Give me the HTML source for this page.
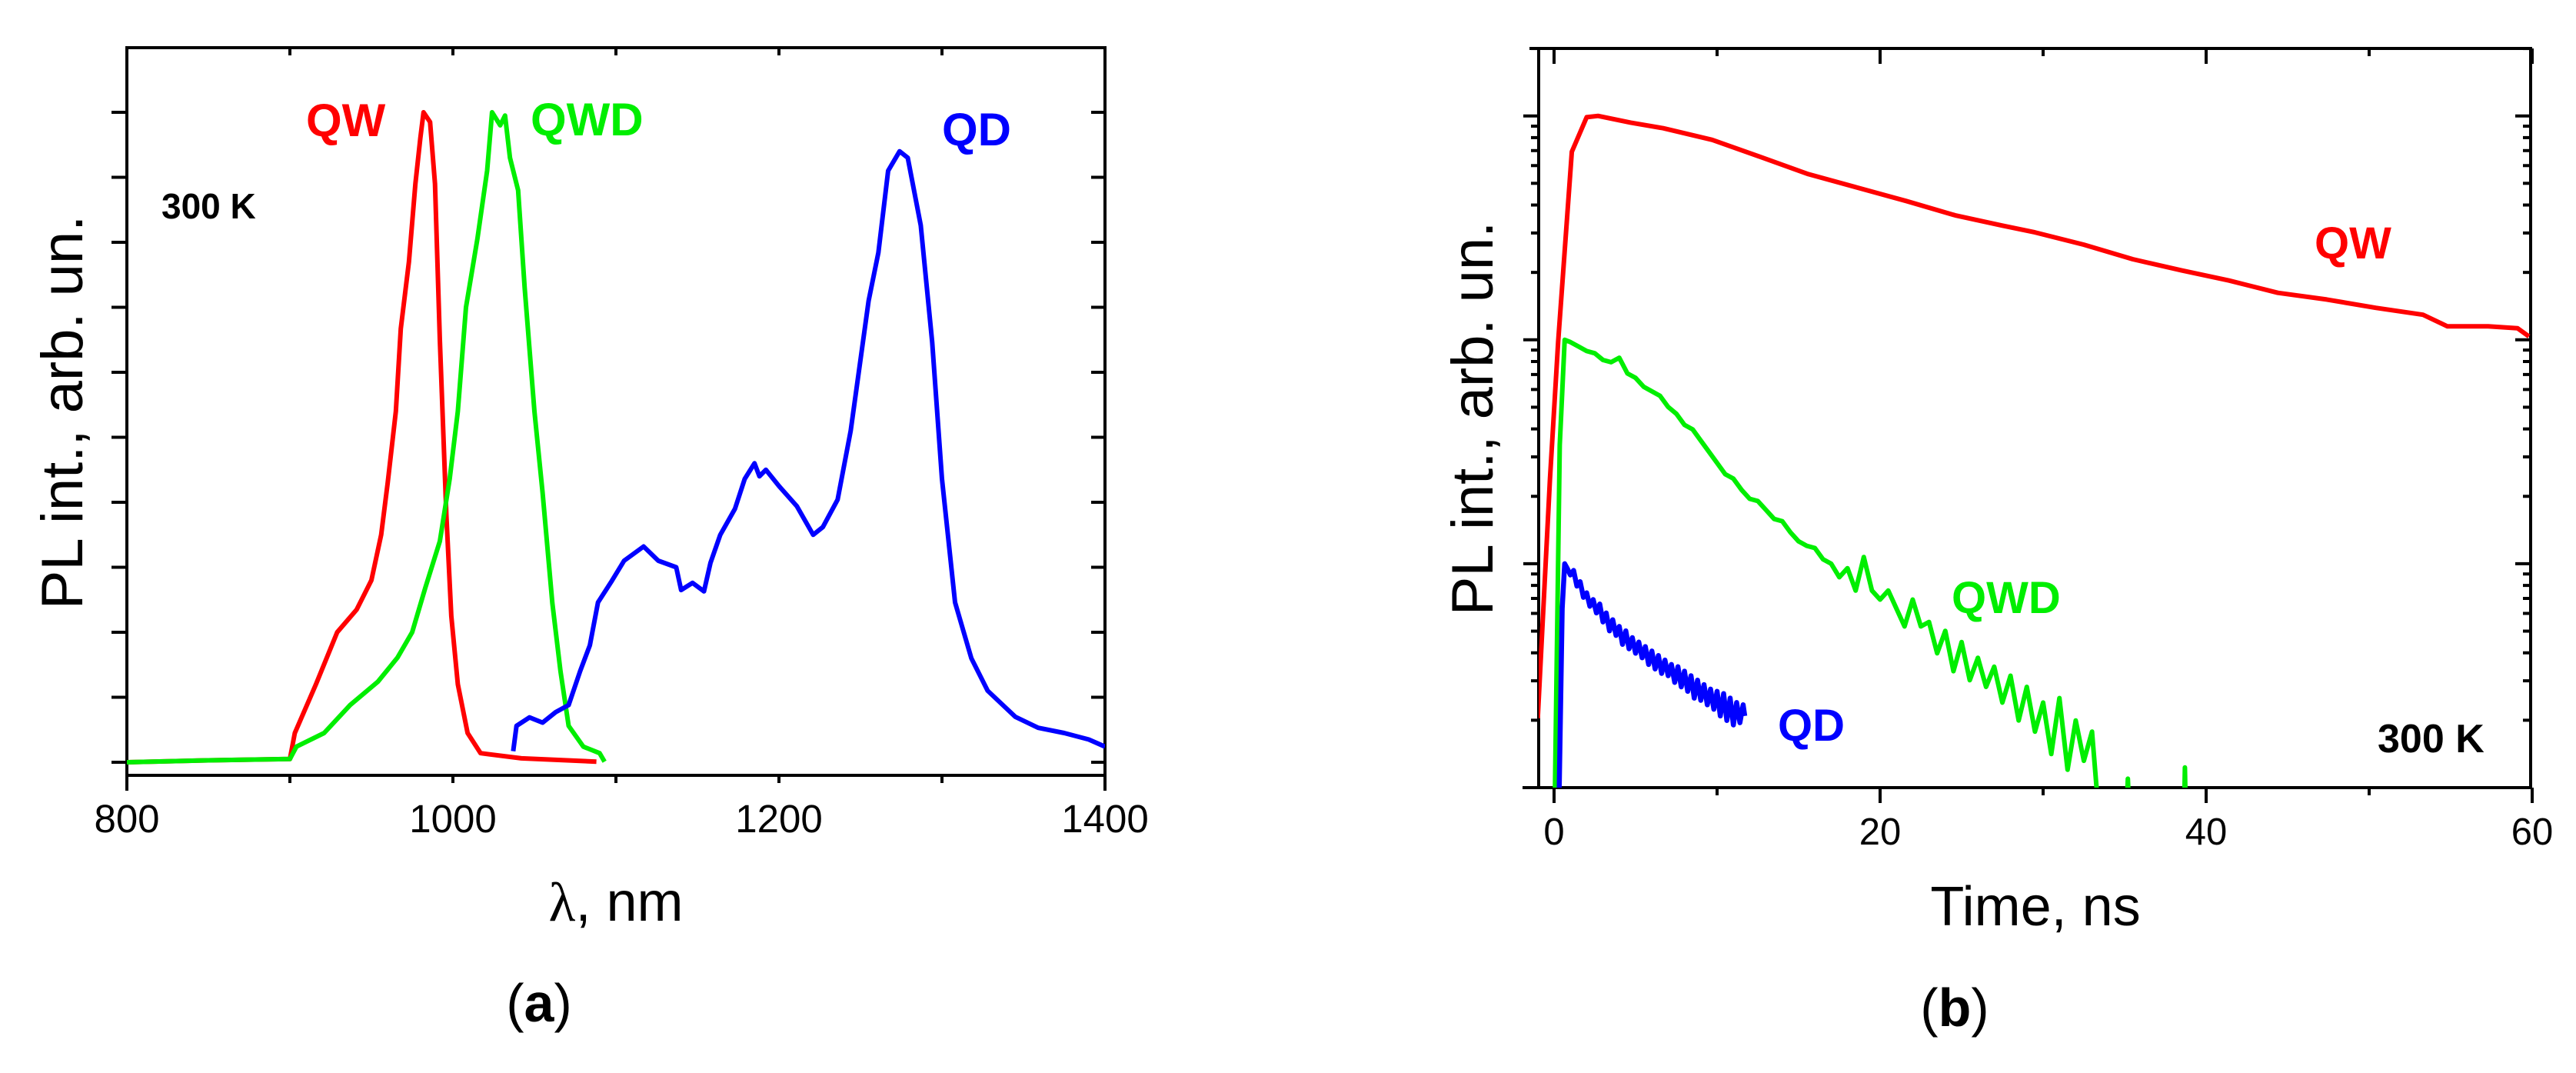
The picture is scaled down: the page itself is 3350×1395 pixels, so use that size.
<!DOCTYPE html>
<html><head><meta charset="utf-8"><style>
html,body{margin:0;padding:0;background:#fff;}
svg{display:block;}
text{font-family:"Liberation Sans",Arial,sans-serif;}
</style></head><body>
<svg id="fig" width="3350" height="1395" viewBox="0 0 3350 1395" xmlns="http://www.w3.org/2000/svg">
<defs>
<clipPath id="clipA"><rect x="165" y="62" width="1272" height="946"/></clipPath>
<clipPath id="clipB"><rect x="2001" y="63" width="1290" height="961"/></clipPath>
</defs>
<g id="panelA"></g>
<g id="panelB"></g>
</svg>
<script>
// ---------- Panel (a) data: wavelength (nm) vs normalized PL ----------
const qwWl  = [800,850,900,903,916,929,941,950,956,960,965,968,973,977,980,982,986,989,992,996,999,1003,1009,1017,1042,1088];
const qwI   = [0,0.003,0.005,0.045,0.12,0.2,0.235,0.28,0.35,0.43,0.54,0.667,0.77,0.89,0.96,1.0,0.985,0.89,0.65,0.38,0.225,0.12,0.045,0.014,0.006,0.001];
const qwdWl = [800,850,900,904,921,937,954,966,975,983,992,998,1003,1008,1015,1021,1024,1029,1032,1035,1040,1044,1050,1055,1061,1066,1071,1080,1090,1093];
const qwdI  = [0,0.003,0.005,0.024,0.045,0.088,0.124,0.161,0.2,0.268,0.34,0.436,0.54,0.7,0.805,0.91,1.0,0.98,0.995,0.93,0.88,0.73,0.54,0.415,0.245,0.14,0.056,0.024,0.014,0.001];
const qdWl  = [1037,1039,1047,1055,1063,1071,1078,1084,1089,1097,1105,1117,1126,1137,1140,1147,1154,1158,1164,1173,1179,1185,1188,1192,1200,1211,1221,1227,1236,1244,1255,1261,1267,1274,1279,1287,1294,1300,1308,1318,1328,1345,1359,1375,1390,1400];
const qdI   = [0.017,0.056,0.069,0.061,0.077,0.088,0.14,0.18,0.246,0.277,0.31,0.332,0.31,0.3,0.265,0.276,0.263,0.307,0.35,0.39,0.436,0.46,0.44,0.45,0.425,0.394,0.35,0.362,0.404,0.51,0.71,0.784,0.91,0.94,0.93,0.826,0.646,0.436,0.246,0.16,0.11,0.07,0.053,0.045,0.035,0.024];
const aXTicks = [800,1000,1200,1400];

// ---------- Panel (b) data: time (ns) vs log10(PL intensity) ----------
const qwT   = [-1,-0.25,0.25,1.09,2,2.7,4.7,6.7,9.7,12.7,15.6,18.6,21.6,24.6,27.5,29.5,32.5,35.5,38.5,41.4,44.4,47.4,50.4,53.3,54.8,57.3,59.1,59.8];
const qwLog = [-2.69,-1.62,-1.01,-0.16,-0.006,0,-0.03,-0.055,-0.107,-0.184,-0.26,-0.32,-0.38,-0.444,-0.49,-0.52,-0.575,-0.64,-0.69,-0.735,-0.79,-0.82,-0.857,-0.888,-0.94,-0.94,-0.948,-0.985];
const qwdT   = [0,0.35,0.65,1,1.5,2,2.5,3,3.5,4,4.5,5,5.5,6,6.5,7,7.5,8,8.5,9,9.5,10,10.5,11,11.5,12,12.5,13,13.5,14,14.5,15,15.5,16,16.5,17,17.5,18,18.5,19,19.5,20,20.5,21,21.5,22,22.5,23,23.5,24,24.5,25,25.5,26,26.5,27,27.5,28,28.5,29,29.5,30,30.5,31,31.5,32,32.5,33,33.5,35,35.2,35.4,38.6,38.7,38.8];
const qwdLog = [-3.3,-1.47,-1.0,-1.01,-1.03,-1.05,-1.06,-1.09,-1.10,-1.08,-1.15,-1.17,-1.21,-1.23,-1.25,-1.30,-1.33,-1.38,-1.40,-1.45,-1.50,-1.55,-1.60,-1.62,-1.67,-1.71,-1.72,-1.76,-1.80,-1.81,-1.86,-1.90,-1.92,-1.93,-1.98,-2.00,-2.06,-2.02,-2.12,-1.97,-2.12,-2.16,-2.12,-2.20,-2.28,-2.16,-2.28,-2.26,-2.40,-2.30,-2.48,-2.35,-2.52,-2.42,-2.55,-2.46,-2.62,-2.50,-2.70,-2.55,-2.75,-2.62,-2.85,-2.60,-2.92,-2.70,-2.88,-2.75,-3.2,-3.3,-2.96,-3.3,-3.3,-2.91,-3.3];
const qdT   = [0.25,0.5,0.65,0.8,1,1.2,1.4,1.6,1.8,2,2.2,2.4,2.6,2.8,3,3.2,3.4,3.6,3.8,4,4.2,4.4,4.6,4.8,5,5.2,5.4,5.6,5.8,6,6.2,6.4,6.6,6.8,7,7.2,7.4,7.6,7.8,8,8.2,8.4,8.6,8.8,9,9.2,9.4,9.6,9.8,10,10.2,10.4,10.6,10.8,11,11.2,11.4,11.6,11.7];
const qdLog = [-3.3,-2.2,-2.0,-2.02,-2.05,-2.03,-2.10,-2.08,-2.15,-2.13,-2.19,-2.16,-2.22,-2.18,-2.26,-2.22,-2.30,-2.25,-2.32,-2.28,-2.36,-2.30,-2.38,-2.33,-2.40,-2.35,-2.42,-2.37,-2.45,-2.39,-2.47,-2.41,-2.49,-2.43,-2.50,-2.45,-2.53,-2.46,-2.55,-2.48,-2.57,-2.50,-2.60,-2.52,-2.61,-2.54,-2.63,-2.56,-2.65,-2.57,-2.68,-2.58,-2.70,-2.60,-2.72,-2.62,-2.71,-2.63,-2.68];
const bXTicks = [0,20,40,60];

const NS = 'http://www.w3.org/2000/svg';
function mk(parent, tag, attrs, txt){
  const e = document.createElementNS(NS, tag);
  for (const k in attrs) e.setAttribute(k, attrs[k]);
  if (txt !== undefined) e.textContent = txt;
  parent.appendChild(e);
  return e;
}
function line(p,x1,y1,x2,y2,w){ return mk(p,'line',{x1:x1,y1:y1,x2:x2,y2:y2,stroke:'#000','stroke-width':w||4}); }

// ===== Panel A =====
const A = document.getElementById('panelA');
const aL=165,aR=1437,aT=62,aB=1008;
const ax = v => aL + (v-800)*(aR-aL)/600;
const ay = v => 991 - v*845;
for (let v=800; v<=1400; v+=100){
  const x=ax(v); const end=(v===800||v===1400);
  const t=line(A,x,aB,x,aB+(end?20:10));
   
  if(!end){ const t2=line(A,x,aT,x,aT+10);
      }
}
for (let i=0;i<=10;i++){
  const y=ay(i/10);
  const t=line(A,aL-20,y,aL,y);
   
  const t2=line(A,aR-18,y,aR,y);
   
}
const frA = mk(A,'rect',{x:aL,y:aT,width:aR-aL,height:aB-aT,fill:'none',stroke:'#000','stroke-width':4});
 
for (const v of aXTicks){
  const t=mk(A,'text',{x:ax(v),y:1082,'font-size':51,'text-anchor':'middle'},String(v));
   
}
function seriesA(xs,ys,color,name){
  const d=xs.map((x,i)=>(i?'L':'M')+ax(x).toFixed(1)+' '+ay(ys[i]).toFixed(1)).join(' ');
  const p=mk(A,'path',{d:d,fill:'none',stroke:color,'stroke-width':6,'stroke-linejoin':'round','clip-path':'url(#clipA)'});
   
}
seriesA(qwWl,qwI,'#ff0000','qw-spectrum');
seriesA(qwdWl,qwdI,'#00ee00','qwd-spectrum');
seriesA(qdWl,qdI,'#0000ff','qd-spectrum');
let tx;
tx=mk(A,'text',{x:398,y:177,'font-size':60,'font-weight':'bold',fill:'#ff0000'},'QW');
 
tx=mk(A,'text',{x:690,y:176,'font-size':60,'font-weight':'bold',fill:'#00ee00'},'QWD');
 
tx=mk(A,'text',{x:1225,y:189,'font-size':60,'font-weight':'bold',fill:'#0000ff'},'QD');
 
tx=mk(A,'text',{x:210,y:284,'font-size':46,'font-weight':'bold'},'300 K');
 
tx=mk(A,'text',{x:801,y:1197,'font-size':72,'text-anchor':'middle'});
tx.innerHTML='<tspan font-family="Liberation Serif, serif">λ</tspan>, nm';
 
tx=mk(A,'text',{x:0,y:0,'font-size':76,'text-anchor':'middle',transform:'translate(107,536) rotate(-90)'},'PL int., arb. un.');
 
tx=mk(A,'text',{x:701,y:1328,'font-size':70,'text-anchor':'middle','font-family':'"Liberation Serif",serif'});
tx.innerHTML='(<tspan font-weight="bold">a</tspan>)';
 

// ===== Panel B =====
const B = document.getElementById('panelB');
const bL=2001,bR=3291,bT=63,bB=1024;
const bx = t => 2021 + t*21.2;
const by = lg => 1024 - (lg+3)*291.1;
for (let v=0; v<=60; v+=10){
  const x=bx(v); const major=(v%20===0);
  const t=line(B,x,bB,x,bB+(major?20:10));
   
  const t2=line(B,x,bT,x,bT+(major?20:10));
   
}
for (let dec=-3; dec<=0; dec++){
  for (let m=1;m<=9;m++){
    const lg=dec+Math.log10(m);
    if (lg>0.302) break;
    const y=by(lg); const len=(m===1)?20:10;
    const t=line(B,bL-len,y,bL,y);
     
    const t2=line(B,bR-len,y,bR,y);
     
  }
}
line(B,1980,bB,bL,bB); line(B,1989,bT,bL,bT);
const frB = mk(B,'rect',{x:bL,y:bT,width:bR-bL,height:bB-bT,fill:'none',stroke:'#000','stroke-width':4});
 
for (const v of bXTicks){
  const t=mk(B,'text',{x:bx(v),y:1098,'font-size':49,'text-anchor':'middle'},String(v));
   
}
function seriesB(xs,ys,color,name,w){
  const d=xs.map((x,i)=>(i?'L':'M')+bx(x).toFixed(1)+' '+by(ys[i]).toFixed(1)).join(' ');
  const p=mk(B,'path',{d:d,fill:'none',stroke:color,'stroke-width':w,'stroke-linejoin':'round','clip-path':'url(#clipB)'});
   
}
seriesB(qwT,qwLog,'#ff0000','qw-decay',6);
seriesB(qwdT,qwdLog,'#00ee00','qwd-decay',6);
seriesB(qdT,qdLog,'#0000ff','qd-decay',6.5);
tx=mk(B,'text',{x:3010,y:336,'font-size':58,'font-weight':'bold',fill:'#ff0000'},'QW');
 
tx=mk(B,'text',{x:2538,y:797,'font-size':58,'font-weight':'bold',fill:'#00ee00'},'QWD');
 
tx=mk(B,'text',{x:2312,y:963,'font-size':58,'font-weight':'bold',fill:'#0000ff'},'QD');
 
tx=mk(B,'text',{x:3092,y:978,'font-size':52,'font-weight':'bold'},'300 K');
 
tx=mk(B,'text',{x:2647,y:1203,'font-size':72,'text-anchor':'middle'},'Time, ns');
 
tx=mk(B,'text',{x:0,y:0,'font-size':76,'text-anchor':'middle',transform:'translate(1941,544) rotate(-90)'},'PL int., arb. un.');
 
tx=mk(B,'text',{x:2542,y:1334,'font-size':70,'text-anchor':'middle','font-family':'"Liberation Serif",serif'});
tx.innerHTML='(<tspan font-weight="bold">b</tspan>)';
 
</script>
</body></html>
